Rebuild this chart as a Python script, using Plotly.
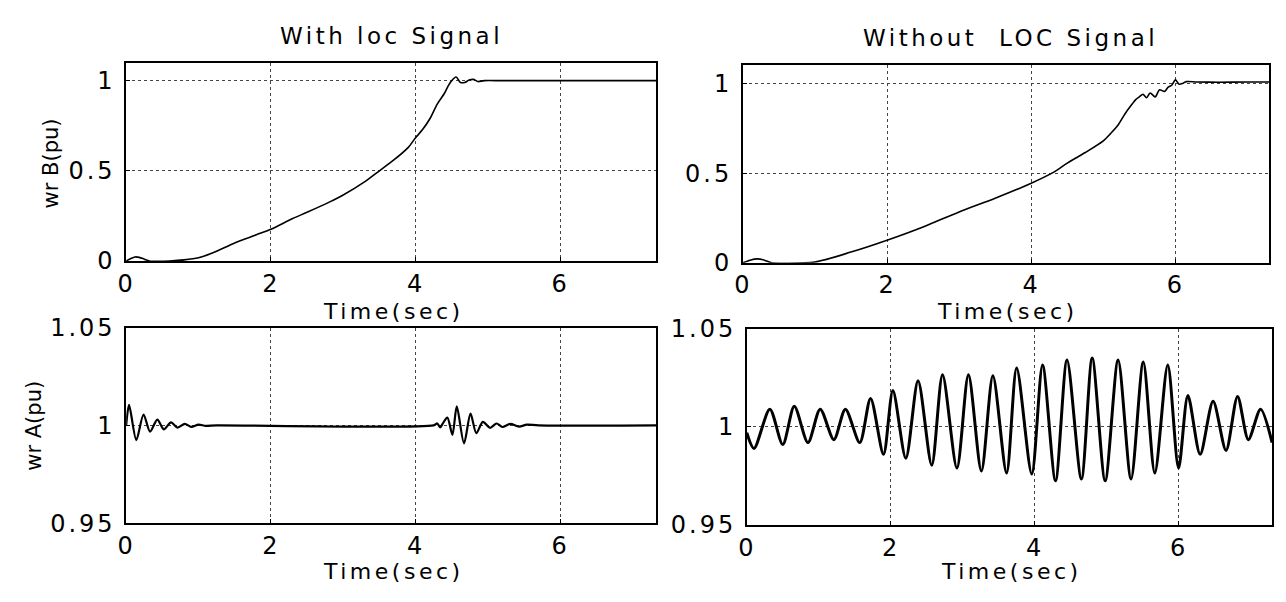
import plotly.graph_objects as go

# ---------------- data ----------------
# Top-left: wr B (pu), with LOC signal
t_b_loc = [0.0, 0.06, 0.12, 0.18, 0.25, 0.32, 0.45, 0.6, 0.8, 1.0, 1.2, 1.5, 1.8, 2.0, 2.3,
           2.5, 2.8, 3.0, 3.3, 3.5, 3.7, 3.9, 4.0, 4.1, 4.2, 4.3, 4.4, 4.45, 4.5, 4.56,
           4.62, 4.68, 4.74, 4.8, 4.86, 4.95, 5.2, 6.0, 7.33]
wb_loc = [0.0, 0.012, 0.022, 0.02, 0.01, 0.0, -0.002, 0.0, 0.006, 0.018, 0.045, 0.10, 0.145, 0.176,
          0.235, 0.27, 0.325, 0.366, 0.44, 0.50, 0.56, 0.63, 0.683, 0.73, 0.79, 0.87, 0.93,
          0.97, 1.0, 1.02, 0.99, 0.99, 1.003, 1.007, 0.995, 1.0, 1.0, 1.0, 1.0]

# Top-right: wr B (pu), without LOC signal
t_b_noloc = [0.0, 0.1, 0.2, 0.3, 0.4, 0.6, 1.0, 1.5, 2.0, 2.5, 3.0, 3.5, 4.0, 4.3, 4.5, 4.75,
             5.0, 5.1, 5.2, 5.3, 5.4, 5.45, 5.5, 5.55, 5.6, 5.65, 5.72, 5.78, 5.85, 5.9, 5.95,
             6.0, 6.05, 6.1, 6.15, 6.3, 6.6, 7.0, 7.3]
wb_noloc = [0.0, 0.015, 0.022, 0.015, 0.0, -0.002, 0.005, 0.06, 0.126, 0.20, 0.284, 0.36, 0.444,
            0.503, 0.556, 0.615, 0.68, 0.72, 0.765, 0.83, 0.885, 0.91, 0.925, 0.94, 0.92,
            0.947, 0.925, 0.965, 0.955, 0.98, 0.99, 1.02, 0.996, 1.0, 1.01, 1.008, 1.007,
            1.008, 1.008]

# Bottom-left: wr A (pu), with LOC signal
t_a_loc = [0.0, 0.04, 0.14, 0.24, 0.33, 0.43, 0.52, 0.62, 0.71, 0.81, 0.9, 1.0, 1.1, 1.25,
           4.25, 4.3, 4.34, 4.38, 4.44, 4.51, 4.57, 4.67, 4.76, 4.84, 4.93, 5.03, 5.12,
           5.2, 5.31, 5.43, 5.54, 5.7, 7.33]
wa_loc = [1.0, 1.0105, 0.9925, 1.0056, 0.9968, 1.003, 0.998, 1.0016, 0.9989, 1.0008, 0.9993,
          1.0004, 0.9998, 1.0, 1.0, 1.001, 0.999, 1.0012, 1.004, 0.9952, 1.0097, 0.9908,
          1.006, 0.996, 1.0018, 0.9988, 1.001, 0.9992, 1.0008, 0.9994, 1.0004, 1.0, 1.0]

# Bottom-right: wr A (pu), without LOC signal
t_a_noloc = [0.0, 0.1, 0.32, 0.5, 0.66, 0.85, 1.02, 1.21, 1.37, 1.57, 1.72, 1.9, 2.03, 2.21,
             2.38, 2.57, 2.72, 2.92, 3.08, 3.26, 3.42, 3.61, 3.75, 3.96, 4.11, 4.29, 4.45,
             4.65, 4.8, 4.98, 5.16, 5.34, 5.51, 5.67, 5.85, 6.0, 6.13, 6.3, 6.48, 6.66,
             6.82, 6.97, 7.14, 7.3]
wa_noloc = [0.997, 0.989, 1.009, 0.991, 1.0105, 0.992, 1.009, 0.9935, 1.009, 0.992, 1.0145,
            0.986, 1.0185, 0.984, 1.0235, 0.9805, 1.0265, 0.979, 1.0265, 0.9775, 1.026,
            0.9765, 1.030, 0.976, 1.0315, 0.9725, 1.034, 0.9735, 1.035, 0.9725, 1.034,
            0.9735, 1.033, 0.9765, 1.0315, 0.979, 1.016, 0.986, 1.013, 0.988, 1.0155,
            0.9935, 1.009, 0.992]

x_ticks = [0, 2, 4, 6]
x_tick_text = ["0", "2", "4", "6"]
yb_ticks = [0, 0.5, 1]
yb_tick_text = ["0", "0.5", "1"]
ya_ticks = [0.95, 1.0, 1.05]
ya_tick_text = ["0.95", "1", "1.05"]

titles = ["With loc Signal", "Without  LOC Signal"]
x_title = "Time(sec)"
y_titles = ["wr B(pu)", "wr A(pu)"]

# ---------------- figure ----------------
W, H = 1286, 602
FONT = "DejaVu Sans"

def wide(s, sp=3):
    # the scanned reference is horizontally stretched; widen text with letter spacing
    return f'<span style="letter-spacing:{sp}px">{s}</span>'

def px_x(a, b):
    return [a / W, b / W]

def px_y(top, bottom):
    return [1 - bottom / H, 1 - top / H]

boxes = {
    1: (118, 652, 51, 259),
    2: (739, 1269, 54, 261),
    3: (118, 652, 329, 534),
    4: (743, 1272, 330, 536),
}
x_max = {1: 7.33, 2: 7.3, 3: 7.33, 4: 7.3}

fig = go.Figure()
series = [
    (t_b_loc, wb_loc, 1, 1.6, "spline"),
    (t_b_noloc, wb_noloc, 2, 1.6, "spline"),
    (t_a_loc, wa_loc, 3, 2.2, "spline"),
    (t_a_noloc, wa_noloc, 4, 3.0, "spline"),
]
for t, v, k, w, shape in series:
    fig.add_trace(go.Scatter(
        x=t, y=v, mode="lines",
        line=dict(color="black", width=w, shape=shape, smoothing=0.8),
        xaxis=f"x{k}", yaxis=f"y{k}", showlegend=False, hoverinfo="skip"))

axis_common = dict(
    showline=True, mirror=True, linecolor="black", linewidth=1.5,
    showgrid=True, gridcolor="#444444", griddash="dot", gridwidth=1,
    zeroline=False, ticks="inside", ticklen=4, tickcolor="black",
    tickfont=dict(family=FONT, size=24, color="black"),
)

layout = dict(
    width=W, height=H, paper_bgcolor="white", plot_bgcolor="white",
    margin=dict(l=0, r=0, t=0, b=0), showlegend=False,
)
for k, (x0, x1, y0, y1) in boxes.items():
    xa = dict(axis_common, domain=px_x(x0, x1), range=[0, x_max[k]],
              tickvals=x_ticks, ticktext=[wide(s, 2) for s in x_tick_text],
              anchor=f"y{k}", ticklabelstandoff=0)
    if k in (1, 2):
        ya = dict(axis_common, domain=px_y(y0, y1), range=[0, 1.1],
                  tickvals=yb_ticks, ticktext=[wide(s, 3) for s in yb_tick_text],
                  anchor=f"x{k}", ticklabelstandoff=4)
    else:
        ya = dict(axis_common, domain=px_y(y0, y1), range=[0.95, 1.05],
                  tickvals=ya_ticks, ticktext=[wide(s, 3) for s in ya_tick_text],
                  anchor=f"x{k}", ticklabelstandoff=4)
    layout[f"xaxis{k}"] = xa
    layout[f"yaxis{k}"] = ya

def ann(text, xc, yc, size, angle=0):
    return dict(text=text, x=xc / W, y=1 - yc / H, xref="paper", yref="paper",
                xanchor="center", yanchor="middle", showarrow=False, textangle=angle,
                font=dict(family=FONT, size=size, color="black"))

annotations = [
    ann(wide(titles[0], 3.5), 385, 23, 23),
    ann(wide(titles[1], 3.5), 1009, 25, 23),
]
for k, (x0, x1, y0, y1) in boxes.items():
    yc = 312 if k in (1, 2) else 585
    annotations.append(ann(wide(x_title, 3.5), (x0 + x1) / 2 + 2, yc, 22))
annotations.append(ann(y_titles[0], 42, 157, 21, -90))
annotations.append(ann(y_titles[1], 25, 432, 21, -90))
layout["annotations"] = annotations

fig.update_layout(**layout)
fig.write_html("out.html", config={"displayModeBar": False},
               post_script="document.body.style.margin='0';document.body.style.overflow='hidden';")
